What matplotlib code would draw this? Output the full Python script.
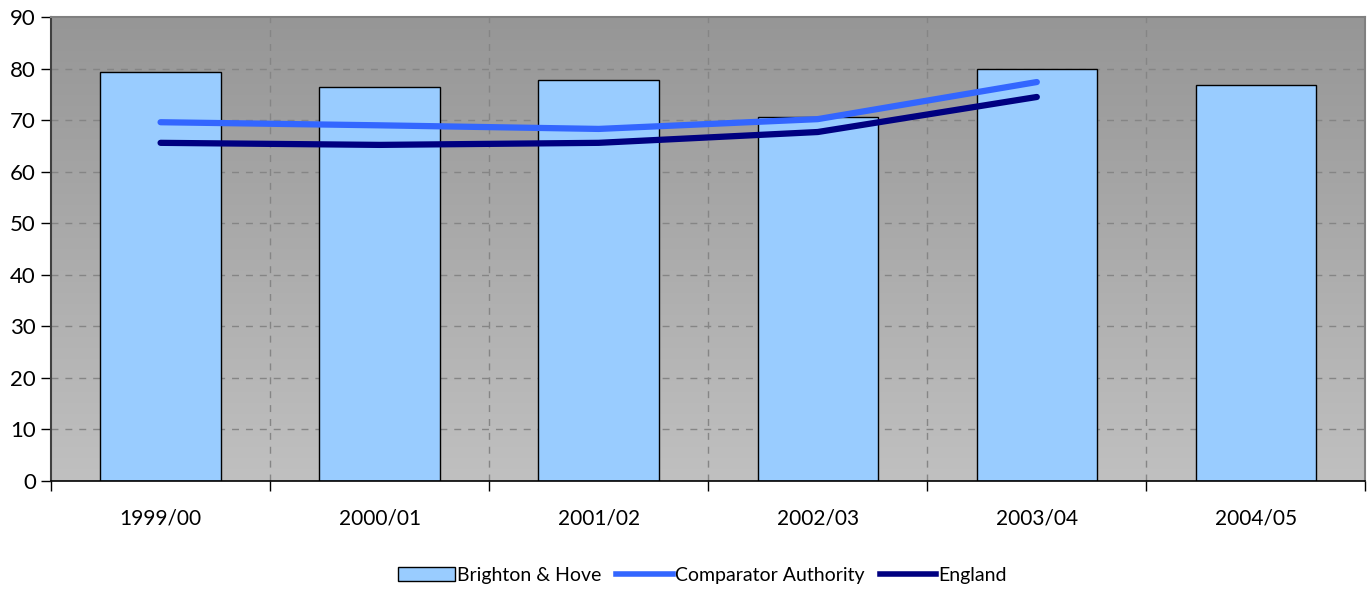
import numpy as np
import matplotlib.pyplot as plt
from matplotlib.lines import Line2D
from matplotlib.patches import Patch

plt.rcParams['font.family'] = ['Lato', 'DejaVu Sans']

years = ['1999/00', '2000/01', '2001/02', '2002/03', '2003/04', '2004/05']
brighton = [79.3, 76.4, 77.8, 70.6, 79.9, 76.8]
comparator = [69.6, 69.0, 68.3, 70.2, 77.4]
england = [65.6, 65.2, 65.6, 67.7, 74.5]

fig = plt.figure(figsize=(13.72, 5.90), dpi=100)
ax = fig.add_axes([0.0372, 0.185, 0.958, 0.786])

x = np.arange(len(years))
ax.set_xlim(-0.5, len(years) - 0.5)
ax.set_ylim(0, 90)

# grey gradient background, dark at top
grad = np.linspace(0, 1, 256).reshape(-1, 1)
ax.imshow(grad, extent=[0, 1, 0, 1], transform=ax.transAxes, aspect='auto',
          cmap=plt.matplotlib.colors.LinearSegmentedColormap.from_list('g', ['#969696', '#c0c0c0']),
          origin='upper', zorder=0)

# gridlines
for yv in range(10, 90, 10):
    ax.axhline(yv, color='#858585', lw=1, ls=(0, (5, 5)), zorder=1)
for xv in np.arange(0.5, len(years) - 0.5, 1):
    ax.axvline(xv, color='#858585', lw=1, ls=(0, (5, 5)), zorder=1)

ax.bar(x, brighton, width=0.55, color='#99ccff', edgecolor='black', lw=1, zorder=2)
ax.plot(x[:len(comparator)], comparator, color='#3366ff', lw=4.5, solid_capstyle='round',
        solid_joinstyle='round', zorder=3)
ax.plot(x[:len(england)], england, color='#000080', lw=4.5, solid_capstyle='round',
        solid_joinstyle='round', zorder=3)

ax.set_yticks(range(0, 91, 10))
ax.set_xticks(np.arange(-0.5, len(years), 1))
ax.set_xticklabels([])
ax.set_xticks(x, minor=True)
ax.set_xticklabels(years, minor=True)
ax.tick_params(axis='x', which='minor', length=0, pad=20, labelsize=15)
ax.tick_params(axis='x', which='major', length=7, width=1, color='black')
ax.tick_params(axis='y', length=7, width=1, labelsize=16, pad=4)

for s in ['top', 'right']:
    ax.spines[s].set_color('#808080')
    ax.spines[s].set_linewidth(1.5)
ax.spines['left'].set_color('#404040')
ax.spines['left'].set_linewidth(1.5)
ax.spines['bottom'].set_color('black')
ax.spines['bottom'].set_linewidth(1.2)

handles = [
    Patch(facecolor='#99ccff', edgecolor='black', label='Brighton & Hove'),
    Line2D([0], [0], color='#3366ff', lw=4, label='Comparator Authority'),
    Line2D([0], [0], color='#000080', lw=4, label='England'),
]
fig.legend(handles=handles, loc='center', bbox_to_anchor=(0.512, 0.025), ncol=3,
           frameon=False, fontsize=14, handlelength=2.9, handletextpad=0.1,
           columnspacing=0.8)

fig.savefig('out.png', dpi=100)
